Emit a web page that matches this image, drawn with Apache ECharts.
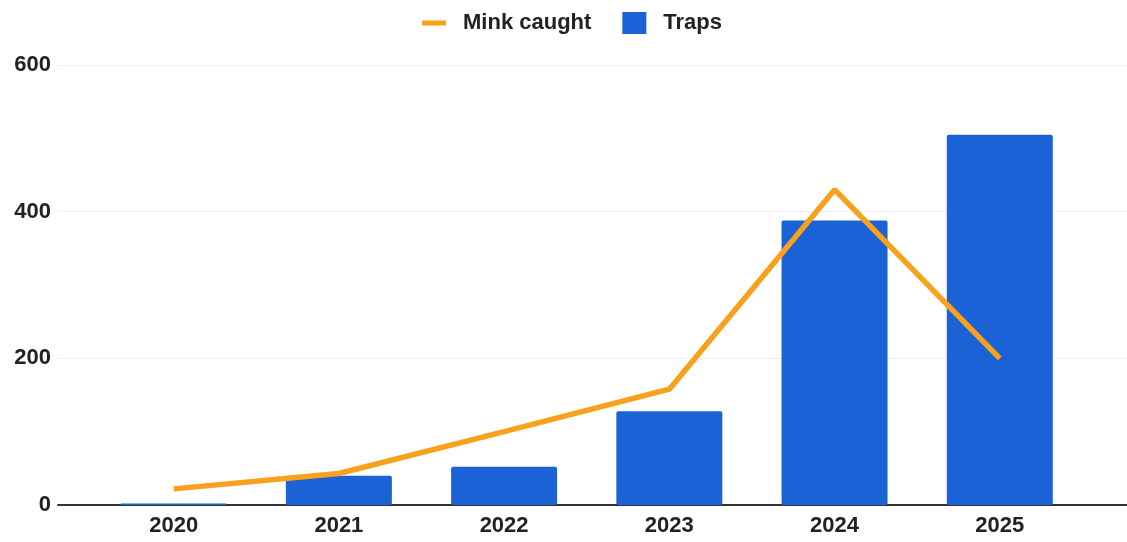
<!DOCTYPE html>
<html>
<head>
<meta charset="utf-8">
<script src="https://cdn.jsdelivr.net/npm/echarts@6/dist/echarts.min.js"></script>
<style>
html,body{margin:0;padding:0;background:#fff;}
#chart{width:1127px;height:542px;}
</style>
</head>
<body>
<div id="chart"></div>
<script>
const categories = ['2020', '2021', '2022', '2023', '2024', '2025'];
const traps = [2, 40, 52, 128, 388, 505];
const minkCaught = [22, 43, 100, 158, 430, 200];
const yTicks = [0, 200, 400, 600];

const years = categories.map(Number);
const font = "'Liberation Sans', Arial, sans-serif";
const chart = echarts.init(document.getElementById('chart'));
chart.setOption({
  animation: false,
  backgroundColor: '#ffffff',
  legend: {
    top: 7,
    left: 417,
    itemWidth: 24,
    itemHeight: 22,
    itemGap: 31,
    textStyle: { fontFamily: font, fontSize: 22, fontWeight: 'bold', color: '#222', padding: [0, 0, 0, 12] },
    data: [
      { name: 'Mink caught', icon: 'path://M0,0 L24,0 L24,5 L0,5 Z', itemStyle: { color: '#f9a11c' } },
      { name: 'Traps', icon: 'rect' }
    ]
  },
  grid: { left: 58, right: 0, top: 65, bottom: 37 },
  xAxis: {
    type: 'value',
    min: 2019.3,
    max: 2025.77,
    axisLine: { show: true, lineStyle: { color: '#333', width: 2 } },
    axisTick: { show: false },
    splitLine: { show: false },
    axisLabel: {
      customValues: years,
      formatter: v => String(v),
      margin: 10,
      fontFamily: font, fontSize: 22, fontWeight: 'bold', color: '#222'
    }
  },
  yAxis: {
    type: 'value',
    min: yTicks[0],
    max: yTicks[yTicks.length - 1],
    interval: 200,
    axisLine: { show: false },
    axisTick: { show: false },
    splitLine: { lineStyle: { color: '#efefef', width: 1 } },
    axisLabel: { margin: 7, fontFamily: font, fontSize: 22, fontWeight: 'bold', color: '#222' }
  },
  series: [
    {
      name: 'Traps',
      type: 'bar',
      barWidth: 106,
      itemStyle: { color: '#1b62d6', borderRadius: 2 },
      data: years.map((y, i) => [y, traps[i]]),
      z: 2
    },
    {
      name: 'Mink caught',
      type: 'line',
      symbol: 'none',
      lineStyle: { color: '#f9a11c', width: 5.5 },
      itemStyle: { color: '#f9a11c' },
      data: years.map((y, i) => [y, minkCaught[i]]),
      z: 3
    }
  ]
});
</script>
</body>
</html>
